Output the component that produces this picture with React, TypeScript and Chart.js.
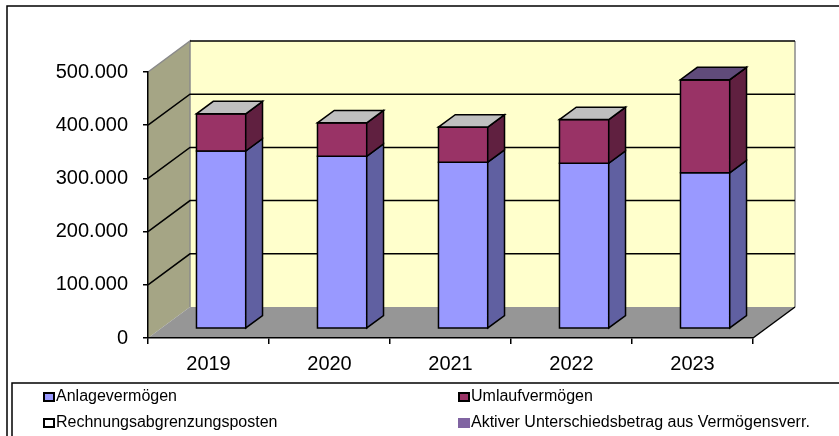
import React, { useEffect, useRef } from "react";
import { Chart, registerables } from "chart.js";

Chart.register(...registerables);

// ---------- data ----------
const years = ["2019", "2020", "2021", "2022", "2023"];
const anlagevermoegen = [334000, 324000, 313000, 311000, 293000];
const umlaufvermoegen = [70000, 63000, 66000, 82000, 175000];
const rechnungsabgrenzungsposten = [0, 0, 0, 0, 0];
const aktiverUnterschiedsbetrag: (number | null)[] = [null, null, null, null, 0];
const yTickValues = [0, 100000, 200000, 300000, 400000, 500000];
const seriesLabels = [
  "Anlagevermögen",
  "Umlaufvermögen",
  "Rechnungsabgrenzungsposten",
  "Aktiver Unterschiedsbetrag aus Vermögensverr.",
];
const seriesColors = ["#9999FF", "#993366", "#FFFFFF", "#8064A2"];
const seriesLegendBorder = [true, true, true, false];

// ---------- geometry / style ----------
const DX = 42;
const DY = 31;
const T0 = 0.3;
const T1 = 0.7;
const FONT = "'Liberation Sans', Arial, sans-serif";

function shade(hex: string, f: number) {
  const n = parseInt(hex.slice(1), 16);
  const r = Math.round(((n >> 16) & 255) * f);
  const g = Math.round(((n >> 8) & 255) * f);
  const b = Math.round((n & 255) * f);
  return `rgb(${r},${g},${b})`;
}

function fmt(v: number) {
  return String(Math.round(v)).replace(/\B(?=(\d{3})+(?!\d))/g, ".");
}

function poly(ctx: CanvasRenderingContext2D, pts: number[][], fill?: string, stroke?: string, lw = 1.5) {
  ctx.beginPath();
  ctx.moveTo(pts[0][0], pts[0][1]);
  for (let i = 1; i < pts.length; i++) ctx.lineTo(pts[i][0], pts[i][1]);
  ctx.closePath();
  if (fill) {
    ctx.fillStyle = fill;
    ctx.fill();
  }
  if (stroke) {
    ctx.strokeStyle = stroke;
    ctx.lineWidth = lw;
    ctx.stroke();
  }
}

function line(ctx: CanvasRenderingContext2D, pts: number[][], color: string, lw = 1.5) {
  ctx.beginPath();
  ctx.moveTo(pts[0][0], pts[0][1]);
  for (let i = 1; i < pts.length; i++) ctx.lineTo(pts[i][0], pts[i][1]);
  ctx.strokeStyle = color;
  ctx.lineWidth = lw;
  ctx.stroke();
}

const threeD = {
  id: "threeD",
  beforeDraw(chart: any) {
    const { ctx, chartArea: a, scales } = chart;
    const ys = scales.y;
    ctx.save();
    ctx.fillStyle = "#FFFFFF";
    ctx.fillRect(0, 0, chart.width, chart.height);
    const top = ys.getPixelForValue(ys.max);
    const bot = ys.getPixelForValue(0);
    // left wall
    poly(ctx, [[a.left, top], [a.left + DX, top - DY], [a.left + DX, bot - DY], [a.left, bot]], "#A5A585");
    // back wall
    poly(ctx, [[a.left + DX, top - DY], [a.right + DX, top - DY], [a.right + DX, bot - DY], [a.left + DX, bot - DY]], "#FFFFCC");
    // floor
    poly(ctx, [[a.left, bot], [a.right, bot], [a.right + DX, bot - DY], [a.left + DX, bot - DY]], "#969696");
    // wall edges
    line(ctx, [[a.left, top], [a.left + DX, top - DY], [a.left + DX, bot - DY]], "#8A8A8A", 1.5);
    line(ctx, [[a.right + DX, top - DY], [a.right + DX, bot - DY]], "#8A8A8A", 1.5);
    // gridlines
    ys.ticks.forEach((t: any) => {
      if (t.value <= 0) return;
      const py = ys.getPixelForValue(t.value);
      if (t.value >= ys.max) {
        line(ctx, [[a.left + DX, py - DY], [a.right + DX, py - DY]], "#000", 1.5);
      } else {
        line(ctx, [[a.left, py], [a.left + DX, py - DY], [a.right + DX, py - DY]], "#000", 1.5);
      }
    });
    // floor right edge
    line(ctx, [[a.right, bot], [a.right + DX, bot - DY]], "#000", 1.5);
    ctx.restore();
  },
  beforeDatasetsDraw(chart: any) {
    const { ctx } = chart;
    const datasets = chart.data.datasets;
    const n = chart.data.labels.length;
    ctx.save();
    ctx.lineJoin = "miter";
    const ddx = (T1 - T0) * DX;
    const ddy = (T1 - T0) * DY;
    for (let j = 0; j < n; j++) {
      let topInfo: any = null;
      for (let i = 0; i < datasets.length; i++) {
        const v = datasets[i].data[j];
        if (v === null || v === undefined) continue;
        const el = chart.getDatasetMeta(i).data[j];
        const p = el.getProps(["x", "y", "base", "width"], true);
        const xl = p.x - p.width / 2 + T0 * DX;
        const xr = p.x + p.width / 2 + T0 * DX;
        const yt = Math.min(p.y, p.base) - T0 * DY;
        const yb = Math.max(p.y, p.base) - T0 * DY;
        const col = datasets[i].backgroundColor;
        poly(ctx, [[xl, yt], [xr, yt], [xr, yb], [xl, yb]], col, "#000", 1.5);
        poly(ctx, [[xr, yt], [xr + ddx, yt - ddy], [xr + ddx, yb - ddy], [xr, yb]], shade(col, 0.63), "#000", 1.5);
        topInfo = { xl, xr, yt, col };
      }
      if (topInfo) {
        const { xl, xr, yt, col } = topInfo;
        poly(ctx, [[xl, yt], [xr, yt], [xr + ddx, yt - ddy], [xl + ddx, yt - ddy]], shade(col, 0.75), "#000", 1.5);
      }
    }
    ctx.restore();
    return false;
  },
  afterDraw(chart: any) {
    const { ctx } = chart;
    ctx.save();
    // outer chart border
    ctx.strokeStyle = "#000";
    ctx.lineWidth = 1.5;
    ctx.strokeRect(7, 6, 1000, 1000);
    // legend box
    ctx.strokeRect(12, 383, 1000, 1000);
    const colX = [44, 459];
    const rowY = [397, 423];
    ctx.font = `16px ${FONT}`;
    ctx.textBaseline = "middle";
    ctx.textAlign = "left";
    chart.data.datasets.forEach((ds: any, i: number) => {
      const x = colX[i % 2];
      const y = rowY[Math.floor(i / 2)];
      ctx.fillStyle = ds.backgroundColor;
      if (ds.legendBorder) {
        ctx.fillRect(x, y - 4, 10, 8);
        ctx.strokeStyle = "#000";
        ctx.lineWidth = 2;
        ctx.strokeRect(x, y - 4, 10, 8);
      } else {
        ctx.fillRect(x - 1, y - 5, 12, 10);
      }
      ctx.fillStyle = "#000";
      ctx.fillText(ds.label, x + 12, y);
    });
    ctx.restore();
  },
};

export default function App() {
  const ref = useRef<HTMLCanvasElement | null>(null);
  useEffect(() => {
    if (!ref.current) return;
    const seriesData = [anlagevermoegen, umlaufvermoegen, rechnungsabgrenzungsposten, aktiverUnterschiedsbetrag];
    const chart = new Chart(ref.current, {
      type: "bar",
      data: {
        labels: years,
        datasets: seriesData.map((d, i) => ({
          label: seriesLabels[i],
          data: d,
          backgroundColor: seriesColors[i],
          legendBorder: seriesLegendBorder[i],
          categoryPercentage: 1,
          barPercentage: 0.407,
        })) as any,
      },
      options: {
        animation: false,
        responsive: false,
        devicePixelRatio: 1,
        events: [],
        layout: { padding: { left: 0, right: 86, top: 72, bottom: 0 } },
        plugins: { legend: { display: false }, tooltip: { enabled: false } },
        scales: {
          x: {
            stacked: true,
            offset: true,
            grid: { offset: true, drawOnChartArea: false, drawTicks: true, tickLength: 6, color: "#000", lineWidth: 1.5 },
            border: { display: true, color: "#000", width: 1.5 },
            ticks: { font: { family: FONT, size: 20 }, color: "#000", padding: 8, maxRotation: 0 },
            afterFit: (s: any) => {
              s.height = 98;
            },
          },
          y: {
            stacked: true,
            min: 0,
            max: 500000,
            afterBuildTicks: (s: any) => {
              s.ticks = yTickValues.map((v) => ({ value: v }));
            },
            grid: { drawOnChartArea: false, drawTicks: true, tickLength: 5, color: "#000", lineWidth: 1.5 },
            border: { display: true, color: "#000", width: 1.5 },
            ticks: {
              font: { family: FONT, size: 20 },
              color: "#000",
              padding: 15,
              callback: (v: any) => fmt(Number(v)),
            },
            afterFit: (s: any) => {
              s.width = 148;
            },
          },
        },
      },
      plugins: [threeD],
    } as any);
    return () => chart.destroy();
  }, []);
  return (
    <div style={{ position: "absolute", left: 0, top: 0, width: 839, height: 436 }}>
      <canvas ref={ref} width={839} height={436} style={{ display: "block" }} />
    </div>
  );
}
